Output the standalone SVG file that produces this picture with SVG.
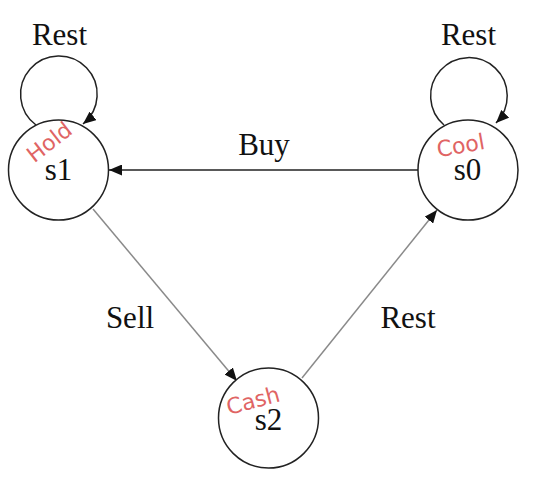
<svg xmlns="http://www.w3.org/2000/svg" width="548" height="484" viewBox="0 0 548 484">
<defs>
<marker id="arr" viewBox="0 0 13 11" refX="13" refY="5.5" markerWidth="13" markerHeight="11" markerUnits="userSpaceOnUse" orient="auto">
<path d="M0,0 L13,5.5 L0,11 Z" fill="#111"/>
</marker>
<style>
.node circle{fill:#fff;stroke:#222;stroke-width:1.5}
.lbl{font-family:"Liberation Serif","Times New Roman",serif;font-size:31px;fill:#111;text-anchor:middle}
.hand{font-family:"DejaVu Sans","Liberation Sans",sans-serif;font-size:22px;fill:#e06464;text-anchor:middle}
.e{fill:none;stroke-width:1.5;marker-end:url(#arr)}
.dark{stroke:#222}
.gray{stroke:#8a8a8a}
</style>
</defs>
<rect width="548" height="484" fill="#fff"/>
<g id="connectors">
<path class="e dark" d="M36,125 A38.3,38.3 0 1 1 83,124"/>
<path class="e dark" d="M444,125 A38.3,38.3 0 1 1 496,123"/>
<path class="e dark" d="M418,170 L109,170"/>
<path class="e gray" d="M93,209 L237,381"/>
<path class="e gray" d="M302,378 L437,210"/>
<text class="lbl" x="59.5" y="45">Rest</text>
<text class="lbl" x="468.5" y="45">Rest</text>
<text class="lbl" x="264" y="155">Buy</text>
<text class="lbl" x="130" y="328">Sell</text>
<text class="lbl" x="408" y="328">Rest</text>
</g>
<g id="s1" class="node">
<circle cx="58.5" cy="170" r="50"/>
<text class="hand" transform="translate(54,148) rotate(-38)">Hold</text>
<text class="lbl" x="58.5" y="180">s1</text>
</g>
<g id="s0" class="node">
<circle cx="468" cy="170" r="50"/>
<text class="hand" transform="translate(462,153) rotate(-10)">Cool</text>
<text class="lbl" x="467.5" y="180">s0</text>
</g>
<g id="s2" class="node">
<circle cx="268.5" cy="418" r="50"/>
<text class="hand" transform="translate(255,408) rotate(-15)">Cash</text>
<text class="lbl" x="268.5" y="430">s2</text>
</g>
</svg>
